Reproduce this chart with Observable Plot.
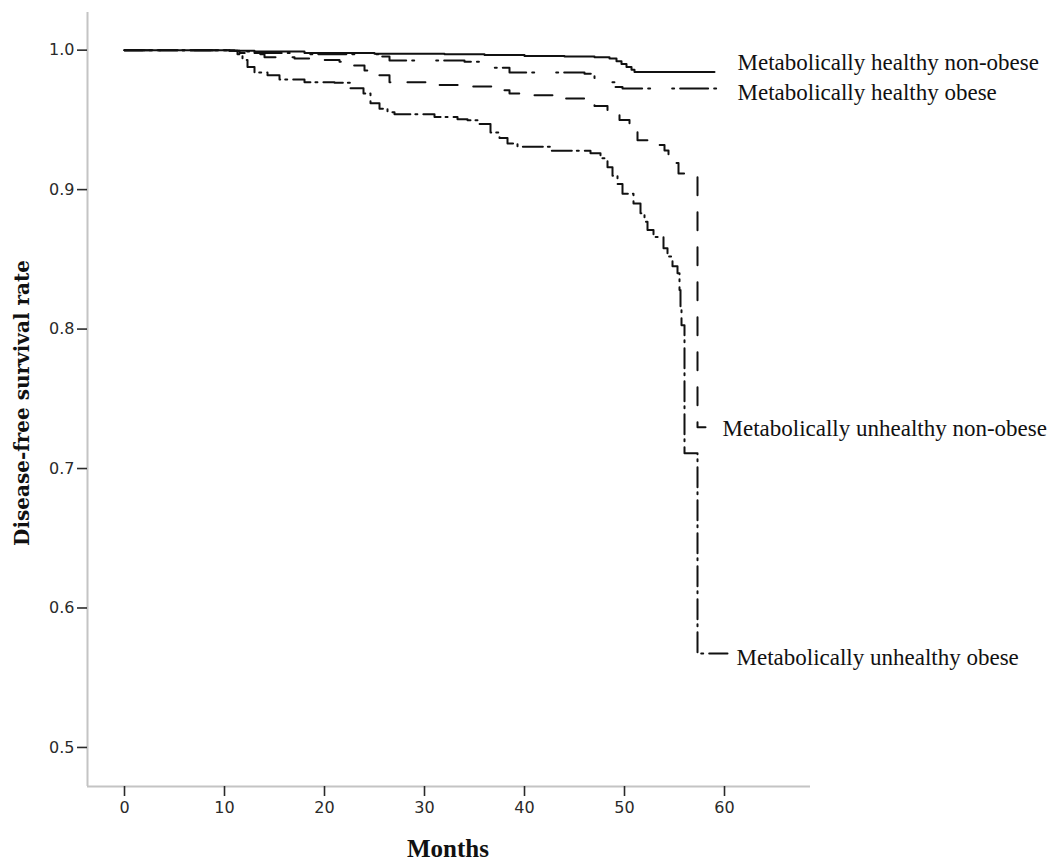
<!DOCTYPE html>
<html><head><meta charset="utf-8">
<script src="https://cdn.jsdelivr.net/npm/d3@7"></script>
<script src="https://cdn.jsdelivr.net/npm/@observablehq/plot@0.6"></script>
<style>body{margin:0;background:#fff} #chart{width:1050px;height:860px}</style>
</head><body><div id="chart"></div>
<script>
// ---- data ----
const groupNames = ["Metabolically healthy non-obese", "Metabolically healthy obese", "Metabolically unhealthy non-obese", "Metabolically unhealthy obese"];

const tHealthyNonObese = [0, 11, 13, 18, 25, 32, 36, 40, 44, 47, 48.5, 49.2, 49.7, 50.2, 50.7, 51, 59];
const sHealthyNonObese = [1, 0.9995, 0.999, 0.998, 0.9975, 0.997, 0.9965, 0.9958, 0.9955, 0.995, 0.994, 0.992, 0.990, 0.988, 0.986, 0.9844, 0.9844];

const tHealthyObese = [0, 11, 12, 13, 18, 25.5, 26.5, 34, 35.5, 37, 38.5, 46, 47, 48, 49, 49.8, 60.3];
const sHealthyObese = [1, 0.9995, 0.999, 0.998, 0.997, 0.9955, 0.9926, 0.9917, 0.989, 0.9873, 0.984, 0.983, 0.980, 0.977, 0.9735, 0.9725, 0.9725];

const tUnhealthyNonObese = [0, 10.5, 11.5, 12.5, 14, 17, 19.5, 21.5, 22.5, 24, 25, 26.5, 31, 34, 37.5, 38.5, 41, 44, 47, 48.3, 49.5, 50.5, 51.3, 52.5, 54, 54.4, 55.4, 57.3, 58.1];
const sUnhealthyNonObese = [1, 0.9995, 0.998, 0.997, 0.995, 0.994, 0.993, 0.9916, 0.989, 0.9855, 0.982, 0.977, 0.975, 0.974, 0.9713, 0.969, 0.9677, 0.9653, 0.960, 0.957, 0.950, 0.9476, 0.9354, 0.932, 0.928, 0.919, 0.9115, 0.7296, 0.7296];

const tUnhealthyObese = [0, 10.5, 11.3, 11.8, 12.3, 13, 14.3, 15.5, 18, 21, 22.6, 23.9, 24.6, 25.5, 26.3, 27, 31, 33.3, 34.3, 35.5, 36.6, 37.5, 38.3, 39.3, 42.6, 46.6, 47.6, 48.3, 48.8, 49.3, 49.8, 50.9, 51.6, 52, 52.3, 52.9, 53.9, 54.3, 54.8, 55.3, 55.5, 55.6, 55.7, 56.0, 57.3, 60.3];
const sUnhealthyObese = [1, 0.9995, 0.997, 0.993, 0.988, 0.984, 0.982, 0.979, 0.977, 0.9766, 0.9727, 0.969, 0.962, 0.958, 0.9555, 0.954, 0.952, 0.9505, 0.9498, 0.947, 0.941, 0.937, 0.933, 0.9307, 0.9278, 0.926, 0.9225, 0.916, 0.91, 0.904, 0.897, 0.89, 0.883, 0.877, 0.871, 0.866, 0.858, 0.852, 0.845, 0.84, 0.828, 0.815, 0.8027, 0.711, 0.5674, 0.5674];

// label anchor points (data units)
const labelMonths = [61.3, 61.3, 59.8, 61.2];
const labelRates = [0.9914, 0.9692, 0.7288, 0.5646];

const xTicks = [0, 10, 20, 30, 40, 50, 60];
const yTicks = [0.5, 0.6, 0.7, 0.8, 0.9, 1.0];
const xDomain = [-3.7, 68.6];
const yDomain = [0.472, 1.027];
const xTitle = "Months";
const yTitle = "Disease-free survival rate";

// ---- styles ----
const dashes = [null, "28,6,2,22,2,6", "18,17", "20,5,2,6"];

const series = [
  [tHealthyNonObese, sHealthyNonObese],
  [tHealthyObese, sHealthyObese],
  [tUnhealthyNonObese, sUnhealthyNonObese],
  [tUnhealthyObese, sUnhealthyObese]
];

const lineMarks = series.map(([t, s], i) => {
  const rows = t.map((m, j) => ({month: m, rate: s[j]}));
  return Plot.line(rows, {
    x: "month", y: "rate", curve: "step-after",
    stroke: "#111", strokeWidth: 2,
    strokeDasharray: dashes[i] || undefined
  });
});

const labels = groupNames.map((name, i) => ({name, month: labelMonths[i], rate: labelRates[i]}));

const chart = Plot.plot({
  width: 1050,
  height: 860,
  marginLeft: 87,
  marginRight: 240,
  marginTop: 12,
  marginBottom: 74,
  style: {fontFamily: "DejaVu Sans", color: "#2a2a2a", background: "#fff", overflow: "visible"},
  x: {domain: xDomain},
  y: {domain: yDomain},
  marks: [
    Plot.ruleX([xDomain[0]], {stroke: "#c4c4c4", strokeWidth: 2}),
    Plot.ruleY([yDomain[0]], {stroke: "#c4c4c4", strokeWidth: 2}),
    Plot.axisY({ticks: yTicks, tickFormat: d3.format(".1f"), tickSize: 10, tickPadding: 3, fontSize: 16, strokeWidth: 1.6, label: null}),
    Plot.axisX({ticks: xTicks, tickFormat: d3.format("d"), tickSize: 10, tickPadding: 5, fontSize: 16, strokeWidth: 1.6, label: null}),
    ...lineMarks,
    Plot.text(labels, {x: "month", y: "rate", text: "name", textAnchor: "start", fontSize: 23, fontFamily: "Liberation Serif", fill: "#111"})
  ]
});

const svg = d3.select(chart);
svg.append("text")
  .attr("transform", "translate(22,403) rotate(-90)")
  .attr("text-anchor", "middle")
  .attr("dominant-baseline", "central")
  .attr("font-family", "DejaVu Serif")
  .attr("font-weight", "bold")
  .attr("font-size", 20)
  .attr("fill", "#111")
  .text(yTitle);
svg.append("text")
  .attr("x", 448)
  .attr("y", 848)
  .attr("text-anchor", "middle")
  .attr("dominant-baseline", "central")
  .attr("font-family", "Liberation Serif")
  .attr("font-weight", "bold")
  .attr("font-size", 25)
  .attr("fill", "#111")
  .text(xTitle);

document.getElementById("chart").appendChild(chart);
</script>
</body></html>
